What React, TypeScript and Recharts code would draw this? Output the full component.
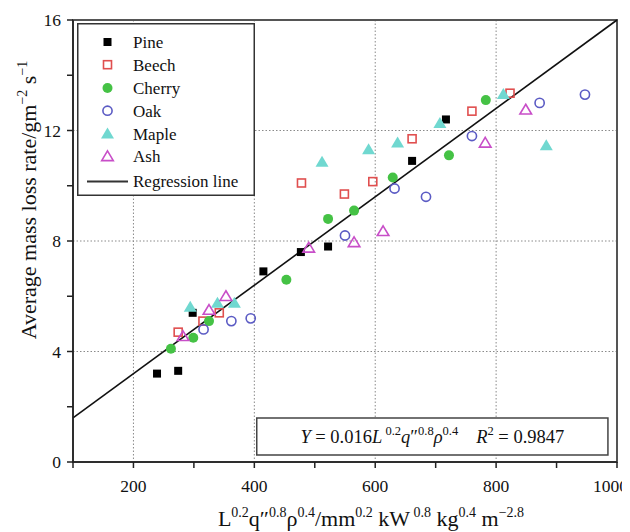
import React from 'react';
import {
  ScatterChart, Scatter, XAxis, YAxis, CartesianGrid, ReferenceLine, ReferenceArea, Legend,
} from 'recharts';

const FONT = '"Liberation Serif", "Times New Roman", Times, serif';

// ---- data ----
const pineX = [239, 274, 298, 415, 477, 522, 661, 717];
const pineY = [3.2, 3.3, 5.4, 6.9, 7.6, 7.8, 10.9, 12.4];
const beechX = [274, 315, 342, 478, 549, 596, 661, 760, 823];
const beechY = [4.7, 5.1, 5.4, 10.1, 9.7, 10.15, 11.7, 12.7, 13.35];
const cherryX = [262, 299, 325, 453, 522, 565, 629, 722, 783];
const cherryY = [4.1, 4.5, 5.1, 6.6, 8.8, 9.1, 10.3, 11.1, 13.1];
const oakX = [316, 362, 394, 550, 632, 684, 760, 872, 947];
const oakY = [4.8, 5.1, 5.2, 8.2, 9.9, 9.6, 11.8, 13.0, 13.3];
const mapleX = [294, 339, 367, 512, 589, 637, 707, 812, 883];
const mapleY = [5.6, 5.75, 5.75, 10.85, 11.3, 11.55, 12.25, 13.3, 11.45];
const ashX = [282, 325, 353, 490, 565, 613, 782, 849];
const ashY = [4.55, 5.5, 6.0, 7.75, 7.95, 8.35, 11.55, 12.75];

const xTicks = [100, 200, 300, 400, 500, 600, 700, 800, 900, 1000];
const yTicks = [0, 2, 4, 6, 8, 10, 12, 14, 16];
const xGrid = [200, 400, 600, 800];
const yGrid = [4, 8, 12];

const regSlope = 0.016;
const regX = [100, 1000];
const regR2 = '0.9847';

// equation box extent (data units)
const eqBoxX = [404, 985];
const eqBoxY = [0.25, 1.59];

type Kind = 'square' | 'squareOpen' | 'circle' | 'circleOpen' | 'triangle' | 'triangleOpen';

const series: { name: string; xs: number[]; ys: number[]; kind: Kind; color: string }[] = [
  { name: 'Pine', xs: pineX, ys: pineY, kind: 'square', color: '#000000' },
  { name: 'Beech', xs: beechX, ys: beechY, kind: 'squareOpen', color: '#e04f4f' },
  { name: 'Cherry', xs: cherryX, ys: cherryY, kind: 'circle', color: '#45c245' },
  { name: 'Oak', xs: oakX, ys: oakY, kind: 'circleOpen', color: '#5b5bc4' },
  { name: 'Maple', xs: mapleX, ys: mapleY, kind: 'triangle', color: '#70d8d0' },
  { name: 'Ash', xs: ashX, ys: ashY, kind: 'triangleOpen', color: '#c84ec8' },
];

function Marker({ kind, cx, cy, color }: { kind: Kind; cx: number; cy: number; color: string }) {
  switch (kind) {
    case 'square':
      return <rect x={cx - 4} y={cy - 4} width={8} height={8} fill={color} />;
    case 'squareOpen':
      return <rect x={cx - 4} y={cy - 4} width={8} height={8} fill="none" stroke={color} strokeWidth={1.6} />;
    case 'circle':
      return <circle cx={cx} cy={cy} r={5} fill={color} />;
    case 'circleOpen':
      return <circle cx={cx} cy={cy} r={4.6} fill="none" stroke={color} strokeWidth={1.6} />;
    case 'triangle':
      return <polygon points={`${cx},${cy - 6.5} ${cx + 6.5},${cy + 4.5} ${cx - 6.5},${cy + 4.5}`} fill={color} />;
    case 'triangleOpen':
      return (
        <polygon
          points={`${cx},${cy - 5.5} ${cx + 5.8},${cy + 4.2} ${cx - 5.8},${cy + 4.2}`}
          fill="none"
          stroke={color}
          strokeWidth={1.6}
          strokeLinejoin="miter"
        />
      );
  }
  return null;
}

function LegendBox() {
  const rowY = [19, 41.7, 65, 87.7, 111, 133.4];
  return (
    <svg width={178} height={174} style={{ display: 'block', overflow: 'visible' }}>
      <rect x={0.75} y={0.75} width={176.5} height={171.5} fill="#fff" stroke="#333" strokeWidth={1.5} />
      {series.map((s, i) => (
        <g key={s.name}>
          <Marker kind={s.kind} cx={30.5} cy={rowY[i]} color={s.color} />
          <text x={56} y={rowY[i] + 6} fontFamily={FONT} fontSize={17} fill="#111">
            {s.name}
          </text>
        </g>
      ))}
      <line x1={10} y1={158.4} x2={51} y2={158.4} stroke="#333" strokeWidth={2} />
      <text x={56} y={164.4} fontFamily={FONT} fontSize={17} fill="#111">
        Regression line
      </text>
    </svg>
  );
}

const SUP = 14;
const SH = 9;

function XLabel() {
  return (
    <text x={363} y={518} textAnchor="middle" fontFamily={FONT} fontSize={22} fill="#111">
      <tspan>L</tspan>
      <tspan dy={-SH} fontSize={SUP}>0.2</tspan>
      <tspan dy={SH}>q″</tspan>
      <tspan dy={-SH} fontSize={SUP}>0.8</tspan>
      <tspan dy={SH}>ρ</tspan>
      <tspan dy={-SH} fontSize={SUP}>0.4</tspan>
      <tspan dy={SH}>/mm</tspan>
      <tspan dy={-SH} fontSize={SUP}>0.2</tspan>
      <tspan dy={SH}> kW</tspan>
      <tspan dy={-SH} fontSize={SUP}> 0.8</tspan>
      <tspan dy={SH}> kg</tspan>
      <tspan dy={-SH} fontSize={SUP}>0.4</tspan>
      <tspan dy={SH}> m</tspan>
      <tspan dy={-SH} fontSize={SUP}>−2.8</tspan>
    </text>
  );
}

function YLabel() {
  const x = 28;
  const y = 192;
  return (
    <text
      x={x}
      y={y}
      transform={`rotate(-90, ${x}, ${y})`}
      textAnchor="middle"
      fontFamily={FONT}
      fontSize={22}
      fill="#111"
    >
      <tspan>Average mass loss rate/gm</tspan>
      <tspan dy={-SH} fontSize={SUP}>−2</tspan>
      <tspan dy={SH}> s</tspan>
      <tspan dy={-SH} fontSize={SUP}>−1</tspan>
    </text>
  );
}

function XTick(props: any) {
  const { x, y, payload } = props;
  const v = payload?.value;
  if (v % 200 !== 0) return null;
  const label = String(v);
  const halfW = label.length * 0.5 * 17.5 * 0.5;
  const maxRight = 620;
  const tx = Math.min(x, maxRight - halfW);
  return (
    <text x={tx} y={y} dy="0.71em" textAnchor="middle" fontFamily={FONT} fontSize={17.5} fill="#111">
      {label}
    </text>
  );
}

function EqLabel(props: any) {
  const vb = props.viewBox || { x: 0, y: 0, width: 0, height: 0 };
  const cx = vb.x + vb.width / 2;
  const by = vb.y + vb.height / 2 + 6;
  const s = 12.5;
  const h = 8;
  return (
    <text x={cx} y={by} textAnchor="middle" fontFamily={FONT} fontSize={18.5} fill="#111">
      <tspan fontStyle="italic">Y</tspan>
      <tspan>{' = ' + String(regSlope)}</tspan>
      <tspan fontStyle="italic">L</tspan>
      <tspan dy={-h} fontSize={s}>{' 0.2'}</tspan>
      <tspan dy={h} fontStyle="italic">q</tspan>
      <tspan>″</tspan>
      <tspan dy={-h} fontSize={s}>0.8</tspan>
      <tspan dy={h} fontStyle="italic">ρ</tspan>
      <tspan dy={-h} fontSize={s}>0.4</tspan>
      <tspan dy={h} dx={18} fontStyle="italic">R</tspan>
      <tspan dy={-h} fontSize={s}>2</tspan>
      <tspan dy={h}>{' = ' + regR2}</tspan>
    </text>
  );
}

export default function App() {
  const segment = regX.map((x) => ({ x, y: regSlope * x }));
  return (
    <ScatterChart
      width={622}
      height={524}
      margin={{ top: 12, right: 13, bottom: 30, left: 0 }}
      style={{ fontFamily: FONT }}
    >
      <CartesianGrid
        horizontalValues={yGrid}
        verticalValues={xGrid}
        stroke="#8a8a8a"
        strokeDasharray="1.5 2"
        strokeWidth={1}
      />
      <XAxis
        type="number"
        dataKey="x"
        domain={[100, 1000]}
        ticks={xTicks}
        allowDataOverflow
        interval={0}
        tickSize={6}
        tickMargin={12}
        height={40}
        stroke="#222"
        strokeWidth={1.5}
        tick={<XTick />}
        label={<XLabel />}
      />
      <YAxis
        type="number"
        dataKey="y"
        domain={[0, 16]}
        ticks={yTicks}
        allowDataOverflow
        interval={0}
        width={65}
        tickSize={6}
        tickMargin={6}
        stroke="#222"
        strokeWidth={1.5}
        tick={{ fill: '#111', fontSize: 17.5, fontFamily: FONT }}
        tickFormatter={(v: number) => (v % 4 === 0 ? String(v) : '')}
        label={<YLabel />}
      />
      <ReferenceArea
        x1={100}
        x2={1000}
        y1={0}
        y2={16}
        fill="none"
        fillOpacity={0}
        stroke="#555"
        strokeWidth={2}
        ifOverflow="visible"
      />
      <ReferenceArea
        x1={eqBoxX[0]}
        x2={eqBoxX[1]}
        y1={eqBoxY[0]}
        y2={eqBoxY[1]}
        fill="#ffffff"
        fillOpacity={1}
        stroke="#444"
        strokeWidth={1.5}
        label={<EqLabel />}
      />
      <ReferenceLine segment={segment} stroke="#111" strokeWidth={1.6} ifOverflow="visible" />
      {series.map((s) => (
        <Scatter
          key={s.name}
          name={s.name}
          data={s.xs.map((x, i) => ({ x, y: s.ys[i] }))}
          fill={s.color}
          isAnimationActive={false}
          shape={(p: any) => <Marker kind={s.kind} cx={p.cx} cy={p.cy} color={s.color} />}
        />
      ))}
      <Legend
        layout="vertical"
        align="center"
        verticalAlign="middle"
        wrapperStyle={{ position: 'absolute', left: 69, top: 15, width: 178, height: 174 }}
        content={() => <LegendBox />}
      />
    </ScatterChart>
  );
}
